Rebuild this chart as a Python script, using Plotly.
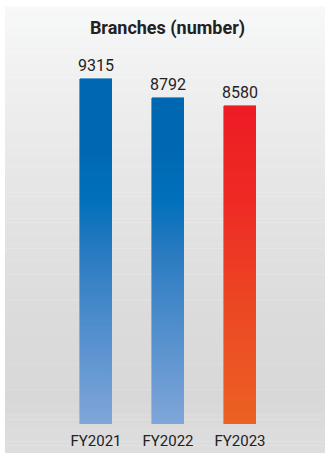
import plotly.graph_objects as go

# ---- data ----
categories = ["FY2021", "FY2022", "FY2023"]
branches = [9315, 8792, 8580]
series_kind = ["blue", "blue", "red"]

# ---- styling ----
FONT = "Roboto"
TEXT_COLOR = "#222222"
# gradient stops: (fraction of bar height, rgb)
BLUE_STOPS = [(0.0, (128, 166, 217)), (0.36, (66, 135, 200)), (0.50, (40, 122, 192)),
              (0.65, (2, 112, 188)), (0.80, (0, 104, 179)), (1.0, (0, 104, 179))]
RED_STOPS = [(0.0, (236, 98, 35)), (0.39, (236, 70, 35)), (0.70, (238, 42, 36)),
             (1.0, (237, 28, 36))]
# panel background, from bottom (0) to top (1) of the panel
BG_STOPS = [(0.0, (222, 222, 222)), (0.12, (216, 216, 216)), (0.30, (219, 219, 219)),
            (0.55, (228, 228, 228)), (0.80, (238, 238, 238)), (1.0, (247, 248, 249))]


def interp(stops, t):
    t = min(max(t, 0.0), 1.0)
    for (t0, c0), (t1, c1) in zip(stops, stops[1:]):
        if t <= t1:
            k = 0 if t1 == t0 else (t - t0) / (t1 - t0)
            c = [round(a + (b - a) * k) for a, b in zip(c0, c1)]
            return "rgb(%d,%d,%d)" % tuple(c)
    return "rgb(%d,%d,%d)" % stops[-1][1]


fig = go.Figure()

# each bar is built from thin stacked slices so it can carry a vertical gradient
N_SLICES = 120
blue_ref = max(v for v, k in zip(branches, series_kind) if k == "blue")
for i in range(N_SLICES):
    mid = (i + 0.5) / N_SLICES
    colors = []
    for v, kind in zip(branches, series_kind):
        if kind == "blue":
            colors.append(interp(BLUE_STOPS, v * mid / blue_ref))
        else:
            colors.append(interp(RED_STOPS, mid))
    fig.add_trace(go.Bar(
        x=categories,
        y=[v / N_SLICES for v in branches],
        width=0.444,
        marker=dict(color=colors, line=dict(color=colors, width=0.6)),
        hoverinfo="skip",
        showlegend=False,
    ))

# value labels above each bar
for c, v in zip(categories, branches):
    fig.add_annotation(x=c, y=v, text=str(v), showarrow=False, yanchor="bottom",
                       yshift=2, font=dict(family=FONT, size=16, color=TEXT_COLOR))

# gradient panel behind the chart
panel_bottom = -29 / 417
N_BG = 120
shapes = []
for i in range(N_BG):
    y0 = panel_bottom + (1 - panel_bottom) * i / N_BG
    y1 = panel_bottom + (1 - panel_bottom) * (i + 1) / N_BG
    col = interp(BG_STOPS, (i + 0.5) / N_BG)
    shapes.append(dict(type="rect", xref="paper", yref="paper", x0=0, x1=1,
                       y0=y0, y1=y1 + 0.001, fillcolor=col, line=dict(width=0),
                       layer="below"))

fig.update_layout(
    width=325, height=454,
    margin=dict(l=5, r=0, t=7, b=30),
    paper_bgcolor="white",
    plot_bgcolor="rgba(0,0,0,0)",
    barmode="stack",
    bargap=0,
    shapes=shapes,
    title=dict(text="<b>Branches (number)</b>", xref="container", yref="container",
               x=167.5 / 325, y=1 - 28 / 454, xanchor="center", yanchor="middle",
               font=dict(family=FONT, size=18, color=TEXT_COLOR)),
    xaxis=dict(range=[-1.2639, 3.1806], showgrid=False, zeroline=False, showline=False,
               ticks="", ticklabelstandoff=6,
               tickfont=dict(family=FONT, size=15, color=TEXT_COLOR),
               fixedrange=True),
    yaxis=dict(range=[0, 11255], visible=False, fixedrange=True),
)

fig.write_html("out.html", config={"displayModeBar": False})
